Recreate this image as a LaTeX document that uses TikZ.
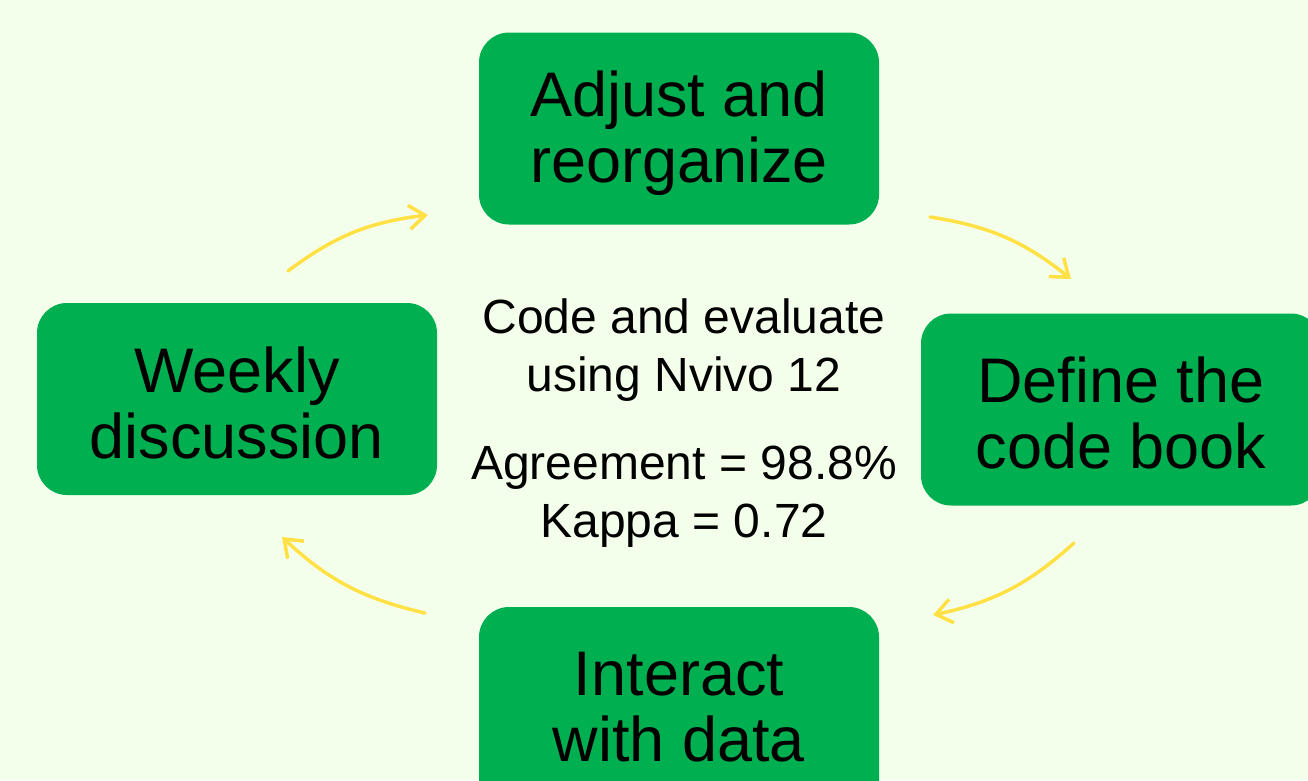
\documentclass[tikz,border=0pt]{standalone}
\usepackage{fontspec}
\setmainfont{Liberation Sans}
\usetikzlibrary{arrows.meta}
\definecolor{bgc}{HTML}{F4FFEB}
\definecolor{boxg}{HTML}{00B050}
\definecolor{arry}{HTML}{FFE146}
\tikzset{
  stepbox/.style={fill=boxg, draw=none, rounded corners=30pt, minimum width=400pt, minimum height=192pt, inner sep=0pt},
  steptext/.style={align=center, inner sep=0pt, font=\fontsize{63}{66}\selectfont, text=black},
  midtext/.style={align=center, inner sep=0pt, font=\fontsize{48}{58}\selectfont, text=black},
  cyc/.style={draw=arry, line width=3.5pt, line cap=round, -{Straight Barb[length=16pt,width=24pt,line width=3.5pt]}, bend left=15}
}
\begin{document}
\begin{tikzpicture}[x=1pt,y=-1pt]
\fill[bgc] (0,0) rectangle (1308,780);
\useasboundingbox (0,0) rectangle (1308,780);
\clip (0,0) rectangle (1308,780);
\node[stepbox] (adjustbox) at (679,128.5) {};
\node[stepbox] (definebox) at (1121,409.5) {};
\node[stepbox, minimum height=260pt] (interactbox) at (679,737) {};
\node[stepbox] (weeklybox) at (237,399) {};
\node[steptext] (adjust) at (679,133) {Adjust and\\reorganize};
\node[steptext] (define) at (1121,413) {Define the\\code book};
\node[steptext] (interact) at (679,707) {Interact\\with data};
\node[steptext] (weekly) at (237,403) {Weekly\\discussion};
\node[midtext] (code) at (684,350) {Code and evaluate\\using Nvivo 12};
\node[midtext] (agree) at (684,497) {Agreement = 98.8\%\\Kappa = 0.72};
\coordinate (a1s) at (288,271); \coordinate (a1e) at (428,215);
\coordinate (a2s) at (930,217); \coordinate (a2e) at (1071,279);
\coordinate (a3s) at (1074,543); \coordinate (a3e) at (933,615);
\coordinate (a4s) at (425,613); \coordinate (a4e) at (282,537);
\draw[cyc] (a1s) to (a1e);
\draw[cyc] (a2s) to (a2e);
\draw[cyc] (a3s) to (a3e);
\draw[cyc] (a4s) to (a4e);
\end{tikzpicture}
\end{document}
